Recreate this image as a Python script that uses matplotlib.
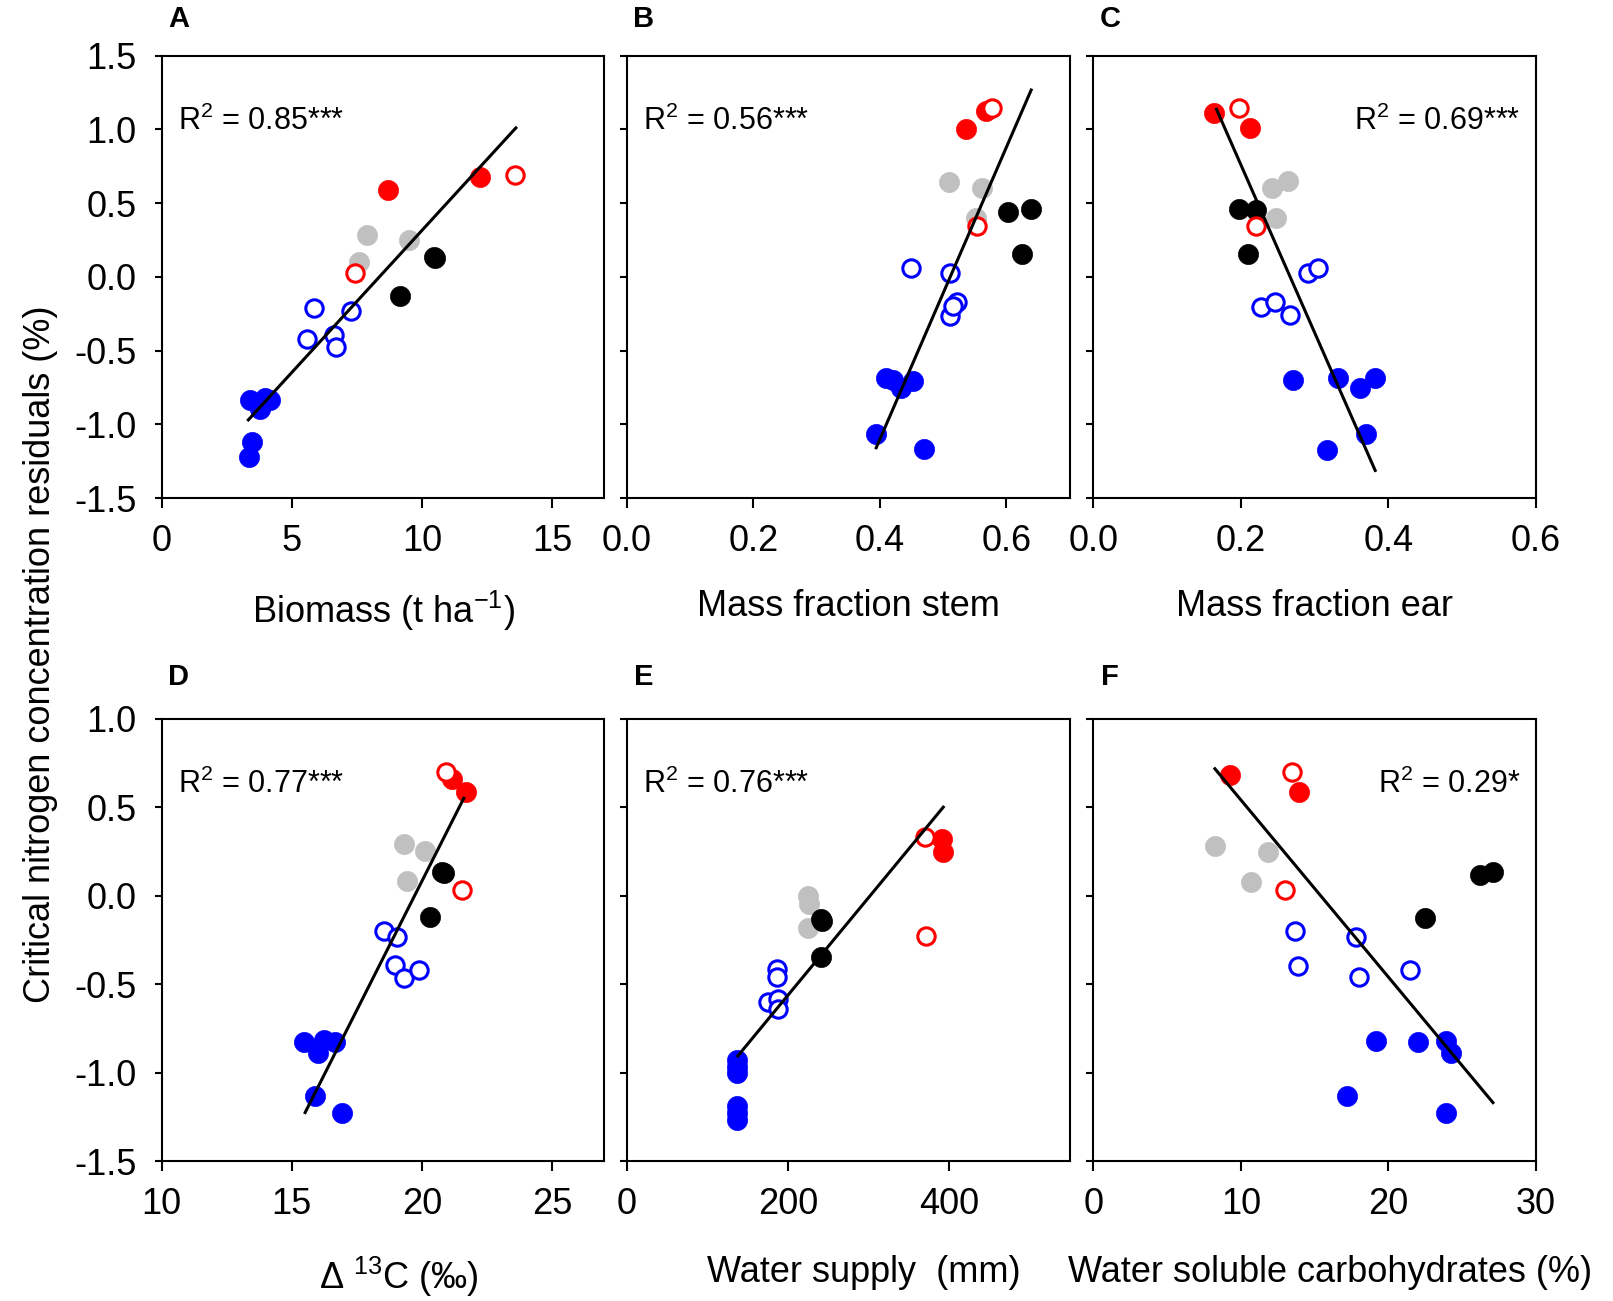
"""Six-panel scatter of critical N concentration residuals against crop traits."""

import matplotlib

matplotlib.use("Agg")
import matplotlib.pyplot as plt
from matplotlib.ticker import FormatStrFormatter

# group of every point, same order in all panels
GROUPS = (["red_fill"] * 2 + ["red_open"] * 2 + ["gray"] * 3 + ["black"] * 3
          + ["blue_open"] * 5 + ["blue_fill"] * 6)

# A: biomass
a_x = [8.68, 12.24, 13.55, 7.44, 7.88, 9.49, 7.56, 10.48, 9.14, 10.46,
       5.86, 7.28, 5.6, 6.6, 6.71, 3.40, 3.78, 3.97, 4.17, 3.46, 3.37]
a_y = [0.587, 0.678, 0.694, 0.029, 0.286, 0.252, 0.104, 0.127, -0.127, 0.132,
       -0.209, -0.229, -0.422, -0.395, -0.474, -0.837, -0.893, -0.825, -0.832, -1.12, -1.22]
a_fit = ([3.33, 13.6], [-0.97, 1.01])

# B: mass fraction stem
b_x = [0.536, 0.568, 0.577, 0.554, 0.509, 0.562, 0.552, 0.602, 0.638, 0.624,
       0.449, 0.51, 0.521, 0.511, 0.515, 0.41, 0.434, 0.452, 0.42, 0.394, 0.47]
b_y = [1.005, 1.125, 1.147, 0.342, 0.642, 0.603, 0.399, 0.437, 0.46, 0.156,
       0.059, 0.025, -0.168, -0.265, -0.2, -0.689, -0.757, -0.705, -0.70, -1.063, -1.165]
b_fit = ([0.394, 0.639], [-1.159, 1.267])

# C: mass fraction ear
c_x = [0.163, 0.212, 0.198, 0.22, 0.242, 0.264, 0.247, 0.198, 0.221, 0.209,
       0.291, 0.305, 0.227, 0.246, 0.267, 0.27, 0.332, 0.361, 0.382, 0.37, 0.317]
c_y = [1.114, 1.012, 1.148, 0.342, 0.603, 0.648, 0.399, 0.46, 0.451, 0.156,
       0.025, 0.059, -0.202, -0.168, -0.258, -0.701, -0.689, -0.757, -0.689, -1.063, -1.172]
c_fit = ([0.167, 0.382], [1.136, -1.313])

# D: carbon isotope discrimination
d_x = [21.67, 21.15, 20.93, 21.54, 19.32, 20.13, 19.42, 20.83, 20.75, 20.3,
       18.52, 19.04, 18.97, 19.29, 19.87, 15.47, 16.02, 16.22, 16.67, 15.9, 16.92]
d_y = [0.585, 0.66, 0.698, 0.032, 0.289, 0.251, 0.081, 0.126, 0.132, -0.123,
       -0.202, -0.232, -0.391, -0.466, -0.421, -0.83, -0.887, -0.817, -0.825, -1.132, -1.226]
d_fit = ([15.51, 21.6], [-1.226, 0.55])

# E: water supply
e_x = [390.8, 392.9, 370.2, 371.5, 224.6, 226.3, 224.6, 242, 241.2, 241,
       186.1, 186.1, 175.8, 188.2, 188.2, 136.5, 136.5, 136.5, 136.5, 136.5, 136.5]
e_y = [0.321, 0.245, 0.33, -0.226, 0.0, -0.047, -0.183, -0.141, -0.349, -0.135,
       -0.415, -0.458, -0.604, -0.585, -0.641, -0.93, -0.97, -1.0, -1.19, -1.23, -1.27]
e_fit = ([137.7, 392.9], [-0.906, 0.5])

# F: water soluble carbohydrates
f_x = [9.26, 13.95, 13.43, 12.98, 8.24, 11.85, 10.66, 26.18, 27.08, 22.46,
       13.66, 17.79, 13.88, 18.01, 21.44, 19.14, 22.0, 23.93, 24.27, 17.16, 23.88]
f_y = [0.679, 0.585, 0.698, 0.032, 0.283, 0.245, 0.075, 0.119, 0.132, -0.126,
       -0.202, -0.236, -0.396, -0.458, -0.421, -0.824, -0.83, -0.82, -0.887, -1.132, -1.226]
f_fit = ([8.24, 27.08], [0.717, -1.17])

LETTERS = ["A", "B", "C", "D", "E", "F"]
R2_TEXT = ["R$^{2}$ = 0.85***", "R$^{2}$ = 0.56***", "R$^{2}$ = 0.69***",
           "R$^{2}$ = 0.77***", "R$^{2}$ = 0.76***", "R$^{2}$ = 0.29*"]
XLABELS = ["Biomass (t ha$^{-1}$)", "Mass fraction stem", "Mass fraction ear",
           "\u0394 $^{13}$C (\u2030)", "Water supply  (mm)", "Water soluble carbohydrates (%)"]
XTICKS = [[0, 5, 10, 15], [0.0, 0.2, 0.4, 0.6], [0.0, 0.2, 0.4, 0.6],
          [10, 15, 20, 25], [0, 200, 400], [0, 10, 20, 30]]
XLIMS = [(0, 17), (0, 0.7), (0, 0.6), (10, 27), (0, 550), (0, 30)]

STYLE = {
    "red_fill": dict(color="#ff0000", filled=True),
    "red_open": dict(color="#ff0000", filled=False),
    "gray": dict(color="#c0c0c0", filled=True),
    "black": dict(color="#000000", filled=True),
    "blue_open": dict(color="#0000ff", filled=False),
    "blue_fill": dict(color="#0000ff", filled=True),
}
DRAW_ORDER = ["gray", "black", "blue_open", "blue_fill", "red_fill", "red_open"]


def draw_panel(ax, xs, ys, fit):
    for grp in DRAW_ORDER:
        px = [x for x, g in zip(xs, GROUPS) if g == grp]
        py = [y for y, g in zip(ys, GROUPS) if g == grp]
        st = STYLE[grp]
        if st["filled"]:
            ax.plot(px, py, "o", ms=14.5, mfc=st["color"], mec=st["color"], mew=0.5, ls="none")
        else:
            ax.plot(px, py, "o", ms=12.5, mfc="white", mec=st["color"], mew=2.2, ls="none")
    ax.plot(fit[0], fit[1], color="black", lw=2.2)


def main() -> None:
    plt.rcParams.update(
        {
            "font.family": ["Liberation Sans", "DejaVu Sans"],
            "mathtext.fontset": "custom",
            "mathtext.rm": "Liberation Sans",
            "mathtext.it": "Liberation Sans:italic",
            "mathtext.bf": "Liberation Sans:bold",
            "axes.unicode_minus": False,
            "axes.linewidth": 1.5,
            "font.size": 26,
        }
    )

    fig = plt.figure(figsize=(16.13, 13.01), dpi=100)
    lefts = [0.1002, 0.3887, 0.6778]
    width = 0.2745
    bottoms = [0.6172, 0.1076]
    height = 0.3400

    datasets = [(a_x, a_y, a_fit), (b_x, b_y, b_fit), (c_x, c_y, c_fit),
                (d_x, d_y, d_fit), (e_x, e_y, e_fit), (f_x, f_y, f_fit)]

    for i, (xs, ys, fit) in enumerate(datasets):
        row, col = divmod(i, 3)
        ax = fig.add_axes([lefts[col], bottoms[row], width, height])
        draw_panel(ax, xs, ys, fit)

        ax.set_xlim(*XLIMS[i])
        ax.set_xticks(XTICKS[i])
        if i in (1, 2):
            ax.xaxis.set_major_formatter(FormatStrFormatter("%.1f"))
        if row == 0:
            ax.set_ylim(-1.5, 1.5)
            ax.set_yticks([-1.5, -1.0, -0.5, 0.0, 0.5, 1.0, 1.5])
        else:
            ax.set_ylim(-1.5, 1.0)
            ax.set_yticks([-1.5, -1.0, -0.5, 0.0, 0.5, 1.0])
        ax.yaxis.set_major_formatter(FormatStrFormatter("%.1f"))
        ax.tick_params(axis="x", direction="out", length=7, width=1.5, pad=12, labelsize=26)
        ax.tick_params(axis="y", direction="out", length=5, width=1.5, pad=13, labelsize=26)
        if col > 0:
            ax.tick_params(axis="y", labelleft=False)

        ax.set_xlabel(XLABELS[i], fontsize=26)
        if row == 0:
            ax.xaxis.set_label_coords(0.5, -0.205)
        else:
            ax.xaxis.set_label_coords(0.535, -0.212)

        if i in (2, 5):
            ax.text(0.965, 0.833, R2_TEXT[i], transform=ax.transAxes, fontsize=22,
                    ha="right", va="baseline")
        else:
            ax.text(0.037, 0.833, R2_TEXT[i], transform=ax.transAxes, fontsize=22,
                    ha="left", va="baseline")

        letter_y = 1.084 if row == 0 else 1.095
        ax.text(0.038, letter_y, LETTERS[i], transform=ax.transAxes, fontsize=21,
                fontweight="bold", ha="center", va="center")

    fig.text(0.025, 1 - 654 / 1301, "Critical nitrogen concentration residuals (%)",
             rotation=90, ha="center", va="center", fontsize=26)

    fig.savefig("out.png", dpi=100, facecolor="white")


if __name__ == "__main__":
    main()
